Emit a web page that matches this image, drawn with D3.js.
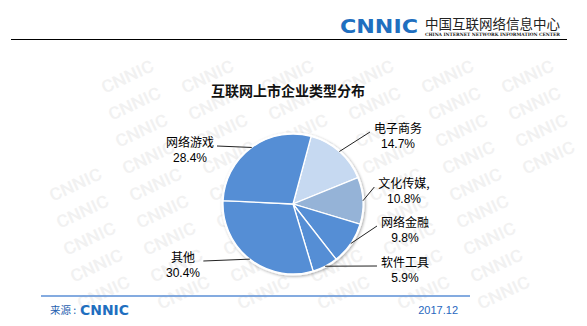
<!DOCTYPE html>
<html>
<head>
<meta charset="utf-8">
<script src="https://cdn.jsdelivr.net/npm/d3@7"></script>
<style>
  body { margin: 0; background: #fff; }
  text { font-family: "Noto Sans CJK SC", "Liberation Sans", sans-serif; }
</style>
</head>
<body>
<div id="chart"></div>
<script>
(function () {

  // slices in clockwise order, starting from the top-right
  const categories = ['电子商务', '文化传媒,', '网络金融', '软件工具', '其他', '网络游戏']
  const values = [14.7, 10.8, 9.8, 5.9, 30.4, 28.4]
  const valueLabels = ['14.7%', '10.8%', '9.8%', '5.9%', '30.4%', '28.4%']

  const title = '互联网上市企业类型分布'

  const width = 587
  const height = 326
  const cx = 293
  const cy = 204
  const radius = 70

  // where each label's first line is centred
  const labelSpots = [[398, 128], [404, 183], [405, 222], [405, 262], [183, 257], [190, 142]]

  const svg = d3.select('#chart').append('svg')
    .attr('width', width)
    .attr('height', height)

  const defs = svg.append('defs')
  const shadow = defs.append('filter').attr('id', 'soft')
    .attr('x', '-20%').attr('y', '-20%').attr('width', '140%').attr('height', '140%')
  shadow.append('feGaussianBlur').attr('in', 'SourceAlpha').attr('stdDeviation', 1.5)
  shadow.append('feOffset').attr('dx', 0.5).attr('dy', 1).attr('result', 'b')
  shadow.append('feComponentTransfer').append('feFuncA').attr('type', 'linear').attr('slope', 0.35)
  const merge = shadow.append('feMerge')
  merge.append('feMergeNode')
  merge.append('feMergeNode').attr('in', 'SourceGraphic')

  // faint CNNIC watermark tiles, only the ones that fit on the page
  const wm = svg.append('g')
  for (let row = 0; row < 11; row++) {
    for (let col = -1; col < 8; col++) {
      const x = 50 + col * 80 + row * 7
      const y = 82 + row * 27
      if (x < 72 || x > 556 || y < 70 || y > 312) continue
      wm.append('text')
        .attr('transform', 'translate(' + x + ',' + y + ') rotate(-25)')
        .attr('text-anchor', 'middle')
        .attr('textLength', 56)
        .attr('lengthAdjust', 'spacingAndGlyphs')
        .style('font-family', 'Roboto, sans-serif')
        .style('font-weight', '500')
        .style('font-size', '17px')
        .attr('fill', '#f1f1f1')
        .text('CNNIC')
    }
  }

  // header
  svg.append('text')
    .attr('x', 340).attr('y', 33)
    .attr('textLength', 78)
    .attr('lengthAdjust', 'spacingAndGlyphs')
    .style('font-family', '"DejaVu Sans", sans-serif')
    .style('font-weight', 'bold')
    .style('font-size', '19px')
    .attr('fill', '#1f6fbf')
    .text('CNNIC')

  svg.append('text')
    .attr('x', 425).attr('y', 29)
    .attr('textLength', 135)
    .attr('lengthAdjust', 'spacingAndGlyphs')
    .style('font-size', '13.5px')
    .attr('fill', '#222')
    .text('中国互联网络信息中心')

  svg.append('text')
    .attr('x', 425).attr('y', 36)
    .attr('textLength', 135)
    .attr('lengthAdjust', 'spacingAndGlyphs')
    .style('font-family', '"DejaVu Serif", serif')
    .style('font-weight', 'bold')
    .style('font-size', '4.5px')
    .attr('fill', '#222')
    .text('CHINA INTERNET NETWORK INFORMATION CENTER')

  svg.append('line')
    .attr('x1', 11).attr('x2', 567)
    .attr('y1', 39.5).attr('y2', 39.5)
    .attr('stroke', '#000').attr('stroke-width', 1.2)

  // title
  svg.append('text')
    .attr('x', 288).attr('y', 96)
    .attr('text-anchor', 'middle')
    .style('font-size', '14px')
    .style('font-weight', 'bold')
    .attr('fill', '#111')
    .text(title)

  // pie
  const colorScale = d3.scaleOrdinal()
    .domain(categories)
    .range(['#c6d9f1', '#95b3d7', '#558ed5', '#558ed5', '#558ed5', '#558ed5'])

  const start = 15 * Math.PI / 180
  const pie = d3.pie().sort(null).startAngle(start).endAngle(start + 2 * Math.PI)
  const arcs = pie(values)
  const arc = d3.arc().innerRadius(0).outerRadius(radius)

  const g = svg.append('g').attr('transform', 'translate(' + cx + ',' + cy + ')')

  g.append('circle')
    .attr('r', radius + 1.5)
    .attr('fill', '#fff')
    .attr('filter', 'url(#soft)')

  g.selectAll('path.slice')
    .data(arcs)
    .join('path')
    .attr('class', 'slice')
    .attr('d', arc)
    .attr('fill', (d, i) => colorScale(categories[i]))
    .attr('stroke', '#fff')
    .attr('stroke-width', 1.3)

  // labels and leader lines
  const labels = svg.append('g')
  arcs.forEach((d, i) => {
    const mid = (d.startAngle + d.endAngle) / 2
    const right = Math.sin(mid) > 0
    const [lx, ly] = labelSpots[i]

    const t = labels.append('text')
      .attr('text-anchor', 'middle')
      .style('font-size', '12px')
      .attr('fill', '#000')
    t.append('tspan').attr('x', lx).attr('y', ly + 4.5).text(categories[i])
    t.append('tspan').attr('x', lx).attr('y', ly + 20).style('font-family', '"Liberation Sans", sans-serif').text(valueLabels[i])

    const bb = t.node().getBBox()
    const ex = right ? bb.x - 4 : bb.x + bb.width + 3
    const ey = ly + 4
    const px = cx + radius * Math.sin(mid)
    const py = cy - radius * Math.cos(mid)

    labels.append('line')
      .attr('x1', px).attr('y1', py)
      .attr('x2', ex).attr('y2', ey)
      .attr('stroke', '#222')
      .attr('stroke-width', 1)
  })

  // footer
  svg.append('line')
    .attr('x1', 41).attr('x2', 470)
    .attr('y1', 296).attr('y2', 296)
    .attr('stroke', '#5b8fd6').attr('stroke-width', 1.5)

  svg.append('text')
    .attr('x', 50).attr('y', 314)
    .style('font-size', '10.5px')
    .attr('fill', '#1f5fb0')
    .text('来源 :')

  svg.append('text')
    .attr('x', 80).attr('y', 315)
    .attr('textLength', 49)
    .attr('lengthAdjust', 'spacingAndGlyphs')
    .style('font-family', '"DejaVu Sans", sans-serif')
    .style('font-weight', 'bold')
    .style('font-size', '14px')
    .attr('fill', '#1f6fbf')
    .text('CNNIC')

  svg.append('text')
    .attr('x', 458).attr('y', 314)
    .attr('text-anchor', 'end')
    .style('font-family', '"Liberation Sans", sans-serif')
    .style('font-size', '11px')
    .attr('fill', '#2868c0')
    .text('2017.12')

})();
</script>
</body>
</html>
